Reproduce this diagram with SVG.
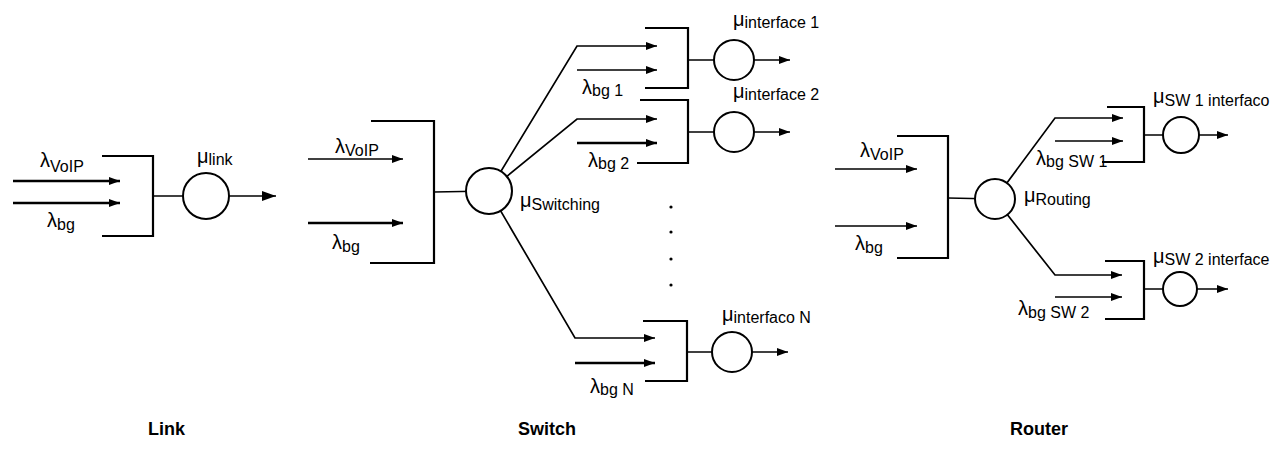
<svg xmlns="http://www.w3.org/2000/svg" width="1283" height="449" viewBox="0 0 1283 449">
<style>
.ln{stroke:#000;stroke-width:1.7;fill:none}
.br{stroke:#000;stroke-width:2.2;fill:none}
.ar{stroke:#000;stroke-width:1.7;fill:none;marker-end:url(#ah)}
.thk{stroke-width:2.3}
.q{stroke:#000;stroke-width:2;fill:#fff}
.g{font-family:"Liberation Sans",Arial,sans-serif;font-size:20px;fill:#000}
.s{font-size:16px}
.t{font-family:"Liberation Sans",Arial,sans-serif;font-size:18px;font-weight:bold;fill:#000}
</style>
<defs>
<marker id="ah" markerWidth="11" markerHeight="8" refX="11" refY="4" orient="auto" markerUnits="userSpaceOnUse"><path d="M0,0 L11,4 L0,8 z" fill="#000"/></marker>
<marker id="ahb" markerWidth="14" markerHeight="10" refX="14" refY="5" orient="auto" markerUnits="userSpaceOnUse"><path d="M0,0 L14,5 L0,10 z" fill="#000"/></marker>
</defs>
<g id="connectors">
<!-- Link -->
<line class="ar thk" x1="13" y1="181" x2="120" y2="181"/>
<line class="ar thk" x1="13" y1="203" x2="120" y2="203"/>
<line class="ln" x1="153" y1="196" x2="206" y2="196"/>
<line class="ln" x1="206" y1="196" x2="276" y2="196" style="marker-end:url(#ahb)"/>
<!-- Switch -->
<line class="ar" x1="308" y1="159" x2="403" y2="159"/>
<line class="ar thk" x1="308" y1="223" x2="403" y2="223"/>
<line class="ln" x1="434" y1="192" x2="489" y2="191"/>
<polyline class="ar" points="489,191 577,46 657,46"/>
<polyline class="ar" points="489,191 577,119 657,119"/>
<polyline class="ar" points="489,191 575,338 655,338"/>
<line class="ar" x1="577" y1="70" x2="657" y2="70"/>
<line class="ar thk" x1="577" y1="143" x2="657" y2="143"/>
<line class="ar thk" x1="575" y1="363" x2="655" y2="363"/>
<line class="ln" x1="688" y1="60" x2="734" y2="60"/>
<line class="ar" x1="734" y1="60" x2="790" y2="60"/>
<line class="ln" x1="688" y1="132" x2="734" y2="132"/>
<line class="ar" x1="734" y1="132" x2="790" y2="132"/>
<line class="ln" x1="687" y1="352" x2="732" y2="352"/>
<line class="ar" x1="732" y1="352" x2="788" y2="352"/>
<!-- Router -->
<line class="ar" x1="835" y1="169" x2="917" y2="169"/>
<line class="ar" x1="835" y1="226" x2="917" y2="226"/>
<line class="ln" x1="948" y1="198" x2="995" y2="199"/>
<polyline class="ar" points="995,199 1055,118 1123,118"/>
<polyline class="ar" points="995,199 1055,275 1122,275"/>
<line class="ar" x1="1055" y1="141" x2="1123" y2="141"/>
<line class="ar" x1="1055" y1="297" x2="1122" y2="297"/>
<line class="ln" x1="1144" y1="135" x2="1181" y2="135"/>
<line class="ar" x1="1181" y1="135" x2="1228" y2="135"/>
<line class="ln" x1="1144" y1="289" x2="1180" y2="289"/>
<line class="ar" x1="1180" y1="289" x2="1228" y2="289"/>
</g>
<g id="link-queue">
<polyline class="br" points="102,156 153,156 153,236 102,236"/>
<circle class="q" cx="206" cy="196" r="23"/>
<text class="g" x="197" y="163">μ<tspan class="s" dy="2">link</tspan></text>
<text class="g" x="40" y="167">λ<tspan class="s" dy="5">VoIP</tspan></text>
<text class="g" x="47" y="227">λ<tspan class="s" dy="3">bg</tspan></text>
</g>
<g id="switch-queue">
<polyline class="br" points="371,121 434,121 434,263 370,263"/>
<circle class="q" cx="489" cy="191" r="23"/>
<text class="g" x="520" y="207">μ<tspan class="s" dy="3">Switching</tspan></text>
<text class="g" x="335" y="153">λ<tspan class="s" dy="3">VoIP</tspan></text>
<text class="g" x="332" y="249">λ<tspan class="s" dy="3">bg</tspan></text>
</g>
<g id="interface-1">
<polyline class="br" points="645,28 688,28 688,88 645,88"/>
<circle class="q" cx="734" cy="60" r="20"/>
<text class="g" x="733" y="26">μ<tspan class="s" dy="2">interface 1</tspan></text>
<text class="g" x="582" y="94">λ<tspan class="s" dy="2">bg 1</tspan></text>
</g>
<g id="interface-2">
<polyline class="br" points="640,100 688,100 688,163 637,163"/>
<circle class="q" cx="734" cy="132" r="20"/>
<text class="g" x="733" y="98">μ<tspan class="s" dy="2">interface 2</tspan></text>
<text class="g" x="588" y="167">λ<tspan class="s" dy="2">bg 2</tspan></text>
</g>
<g id="dots">
<circle cx="671" cy="207" r="1.6"/>
<circle cx="671" cy="232" r="1.6"/>
<circle cx="671" cy="259" r="1.6"/>
<circle cx="671" cy="285" r="1.6"/>
</g>
<g id="interface-n">
<polyline class="br" points="643,321 687,321 687,381 645,381"/>
<circle class="q" cx="732" cy="352" r="20"/>
<text class="g" x="722" y="321">μ<tspan class="s" dy="2">interfaco N</tspan></text>
<text class="g" x="590" y="393">λ<tspan class="s" dy="2">bg N</tspan></text>
</g>
<g id="router-queue">
<polyline class="br" points="897,136 948,136 948,258 897,258"/>
<circle class="q" cx="995" cy="199" r="20"/>
<text class="g" x="1024" y="202">μ<tspan class="s" dy="3">Routing</tspan></text>
<text class="g" x="860" y="157">λ<tspan class="s" dy="3">VoIP</tspan></text>
<text class="g" x="855" y="250">λ<tspan class="s" dy="3">bg</tspan></text>
</g>
<g id="sw1-interface">
<polyline class="br" points="1107,107 1144,107 1144,162 1102,162"/>
<circle class="q" cx="1181" cy="135" r="18"/>
<text class="g" x="1153" y="103">μ<tspan class="s" dy="3">SW 1 interfaco</tspan></text>
<text class="g" x="1036" y="165">λ<tspan class="s" dy="2">bg SW 1</tspan></text>
</g>
<g id="sw2-interface">
<polyline class="br" points="1105,261 1144,261 1144,319 1105,319"/>
<circle class="q" cx="1180" cy="289" r="17"/>
<text class="g" x="1153" y="263">μ<tspan class="s" dy="2">SW 2 interface</tspan></text>
<text class="g" x="1018" y="315">λ<tspan class="s" dy="3">bg SW 2</tspan></text>
</g>
<g id="titles">
<text class="t" x="148" y="435">Link</text>
<text class="t" x="518" y="435">Switch</text>
<text class="t" x="1010" y="435">Router</text>
</g>
</svg>
